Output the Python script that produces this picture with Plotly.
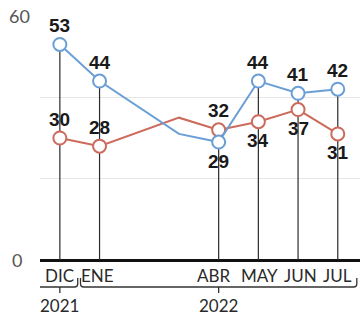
import plotly.graph_objects as go

# ---- data ----
months = ["DIC", "ENE", "MAR", "ABR", "MAY", "JUN", "JUL"]
month_idx = [0, 1, 3, 4, 5, 6, 7]          # months since Dec 2021
labeled = [True, True, False, True, True, True, True]
blue_vals = [53, 44, 31, 29, 44, 41, 42]
red_vals = [30, 28, 35, 32, 34, 37, 31]
blue_label_pos = ["top", "top", None, "bottom", "top", "top", "top"]
red_label_pos = ["top", "top", None, "top", "bottom", "bottom", "bottom"]
years = ["2021", "2022"]
year_spans = [(-0.57, 0.45, 0), (0.52, 7.48, 4)]   # (start, end, center) in month units
y_ticks = [0, 20, 40, 60]
y_ticktext = ["0", "", "", "60"]

# style: small horizontal nudges of month labels (px)
month_label_shift = [0, -2, 0, -5, 1, 2, 0]

BLUE = "#6a9ed6"
RED = "#cc6a5c"
W, H = 360, 318
L, R, T, B = 40, 0, 16, 58
PH = H - T - B


def py(p):  # pixel y -> paper y
    return (H - B - p) / PH


fig = go.Figure()

# stems from top marker to baseline
sx, sy = [], []
for x, b, r, s in zip(month_idx, blue_vals, red_vals, labeled):
    if s:
        sx += [x, x, None]
        sy += [0, max(b, r), None]
fig.add_trace(go.Scatter(x=sx, y=sy, mode="lines",
                         line=dict(color="#2b2b2b", width=1.2),
                         hoverinfo="skip", showlegend=False))

for vals, col in [(red_vals, RED), (blue_vals, BLUE)]:
    fig.add_trace(go.Scatter(x=month_idx, y=vals, mode="lines",
                             line=dict(color=col, width=2),
                             showlegend=False))
    mx = [x for x, s in zip(month_idx, labeled) if s]
    my = [v for v, s in zip(vals, labeled) if s]
    fig.add_trace(go.Scatter(x=mx, y=my, mode="markers",
                             marker=dict(size=13, color="white",
                                         line=dict(color=col, width=2)),
                             showlegend=False))

annotations = []
for vals, poss in [(blue_vals, blue_label_pos), (red_vals, red_label_pos)]:
    for x, v, p in zip(month_idx, vals, poss):
        if p is None:
            continue
        annotations.append(dict(x=x, y=v, text=str(v), showarrow=False,
                                yshift=19 if p == "top" else -19,
                                font=dict(family="Liberation Sans", size=19,
                                          color="#1a1a1a", weight="bold")))

# month labels
for x, m, s, dx in zip(month_idx, months, labeled, month_label_shift):
    if s:
        annotations.append(dict(x=x, y=py(275), yref="paper", text=m,
                                showarrow=False, yanchor="middle", xshift=dx,
                                font=dict(family="Lato", size=17, color="#2a2a2a")))

# year labels + brackets
shapes = []
for yr, (x0, x1, xc) in zip(years, year_spans):
    annotations.append(dict(x=xc, y=py(306), yref="paper", text=yr,
                            showarrow=False, yanchor="middle",
                            font=dict(family="Lato", size=17, color="#2a2a2a")))
    yt, yb, yk, r = py(278), py(287), py(293), 0.08
    ry = py(284)
    path = (f"M {x0},{yt} L {x0},{ry} Q {x0},{yb} {x0 + r},{yb} "
            f"L {x1 - r},{yb} Q {x1},{yb} {x1},{ry} L {x1},{yt} "
            f"M {xc},{yb} L {xc},{yk}")
    shapes.append(dict(type="path", path=path, xref="x", yref="paper",
                       line=dict(color="#333333", width=1.3)))

# y tick labels
annotations.append(dict(x=0, y=60, xref="paper", text="60", showarrow=False,
                        xanchor="right", xshift=-8,
                        font=dict(family="Lato", size=18, color="#555555")))
annotations.append(dict(x=0, y=0, xref="paper", text="0", showarrow=False,
                        xanchor="right", xshift=-16,
                        font=dict(family="Lato", size=18, color="#555555")))

fig.update_layout(
    width=W, height=H,
    margin=dict(l=L, r=R, t=T, b=B),
    paper_bgcolor="white", plot_bgcolor="white",
    showlegend=False,
    annotations=annotations, shapes=shapes,
    xaxis=dict(range=[-0.5, 7.56], showgrid=False, zeroline=False,
               showticklabels=False, ticks="", fixedrange=True),
    yaxis=dict(range=[0, 60], tickvals=y_ticks, ticktext=y_ticktext,
               showticklabels=False, gridcolor="#e6e6e6", gridwidth=1,
               zeroline=True, zerolinecolor="#111111", zerolinewidth=2.5,
               fixedrange=True),
)

fig.write_html("out.html", config={"displayModeBar": False},
               post_script="document.body.style.margin='0';"
                           "document.body.style.overflow='hidden';")
